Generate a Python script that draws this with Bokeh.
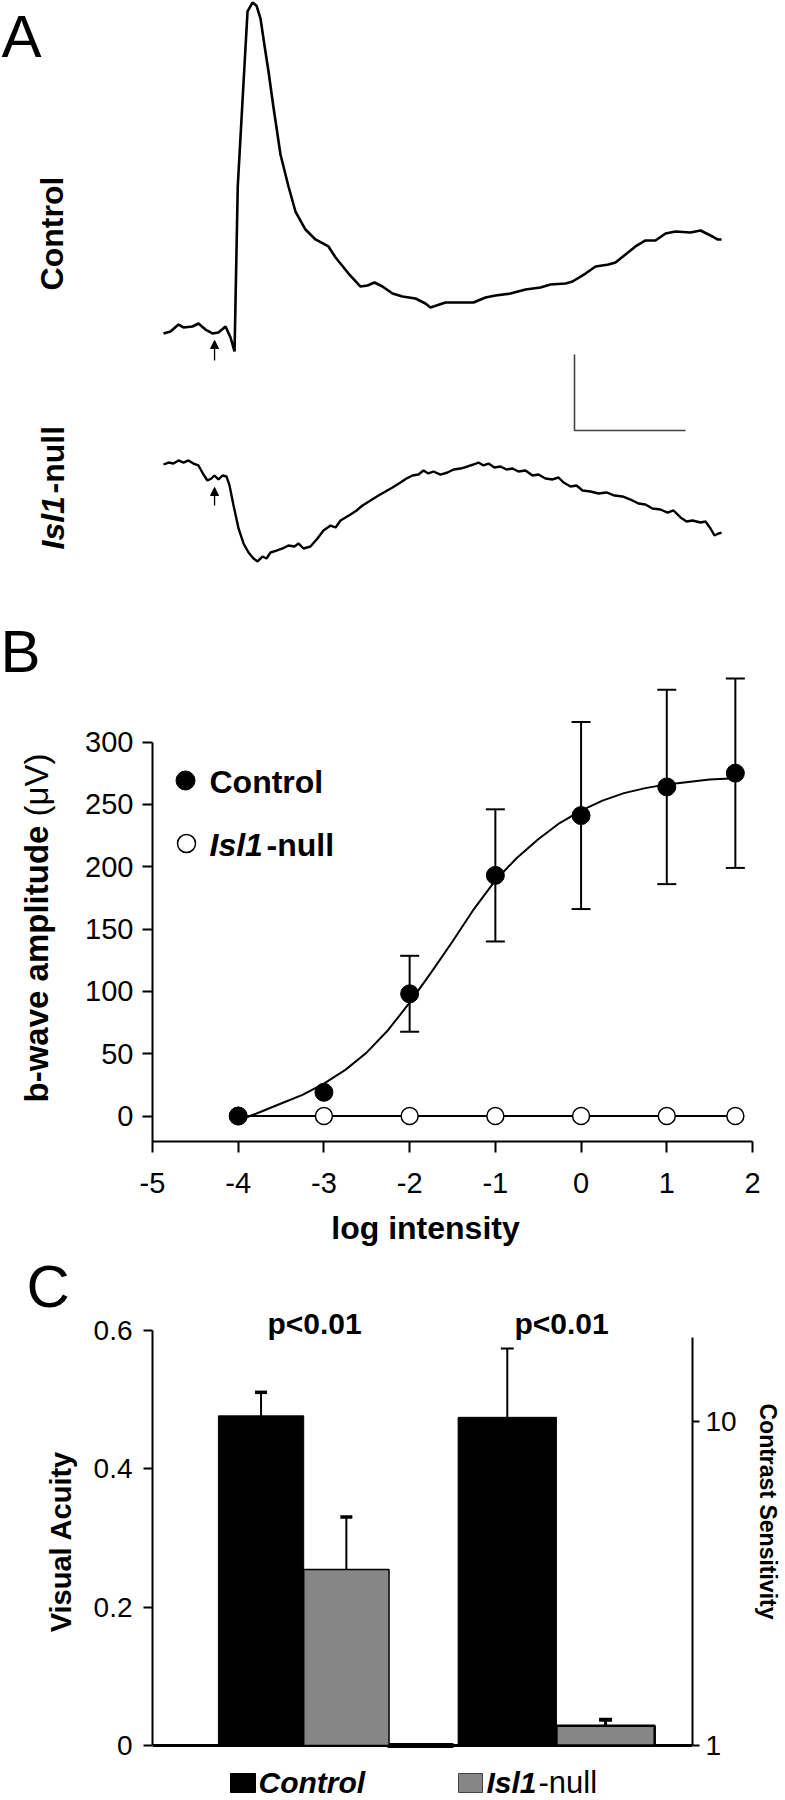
import math
from bokeh.plotting import figure
from bokeh.models import (Range1d, Label, Arrow, NormalHead, Whisker, TeeHead, ColumnDataSource,
                          FixedTicker, LogAxis, LogScale, BasicTickFormatter)
from bokeh.layouts import column, row
from bokeh.embed import file_html
from bokeh.resources import INLINE

FONT = "Liberation Sans"

# ---------------- Panel A: ERG traces (time in ms, amplitude in uV) ----------------
ctrl_t = [0, 6.3, 13.5, 18.0, 26.1, 31.5, 37.8, 44.1, 49.5, 55.9, 60.4, 64.0, 66.9,
          71.2, 75.7, 80.2, 83.8, 87.4, 91.0, 94.6, 99.1, 105.4, 112.6, 118.9, 127.9, 136.9,
          148.6, 155.0, 166.7, 177.5, 183.8, 190.1, 197.3, 206.3, 215.3, 227.0, 236.0, 240.5, 245.9,
          254.1, 265.8, 279.3, 290.1, 299.1, 312.6, 326.1, 339.6, 348.6, 362.2, 368.5, 380.2, 389.2,
          400.9, 407.2, 416.2, 425.2, 434.2, 443.2, 452.3, 461.3, 474.8, 483.8, 494.6, 499.1, 502.7]
ctrl_v = [-1.3, 1.3, 10.5, 6.6, 7.9, 11.8, 3.9, -1.3, 0, 7.9, -6.6, -25.0, 192.1,
          305.3, 422.4, 434.2, 430.0, 413.0, 377.6, 343.4, 296.0, 234.2, 192.1, 159.2, 135.5,
          122.4, 113.2, 98.7, 77.6, 60.5, 61.8, 65.8, 60.5, 51.3, 47.4, 44.7, 38.2, 32.9, 35.5,
          39.5, 39.5, 39.5, 46.1, 48.7, 51.3, 56.6, 59.2, 63.2, 64.5, 67.1, 77.6, 86.8,
          89.5, 92.1, 102.6, 113.2, 121.1, 121.1, 130.3, 132.9, 131.6, 134.2, 126.3, 122.4, 122.4]
isl_t = [0, 4.5, 9.0, 13.5, 18.0, 22.5, 27.0, 31.5, 36.0, 39.6, 43.2, 45.9, 49.5, 53.2, 56.8,
         59.5, 63.1, 67.6, 72.1, 76.6, 81.1, 84.7, 89.2, 92.8, 96.4, 101.8, 107.2, 112.6, 118.0,
         121.6, 126.1, 132.4, 138.7, 144.1, 150.5, 155.0, 159.5, 164.0, 168.5, 173.9, 179.3, 186.5,
         193.7, 200.0, 206.3, 213.5, 218.9, 224.3, 229.7, 234.2, 238.7, 243.2, 249.5, 255.9, 261.3,
         267.6, 273.9, 279.3, 283.8, 288.3, 292.8, 298.2, 303.6, 309.0, 314.4, 319.8, 326.1, 332.4,
         337.8, 344.1, 350.5, 355.9, 360.4, 366.7, 372.1, 377.5, 384.7, 391.9, 399.1, 406.3, 413.5,
         420.7, 427.9, 434.2, 440.5, 447.7, 454.1, 459.5, 465.8, 471.2, 476.6, 483.8, 488.3, 492.8,
         496.4, 500.0, 502.7]
isl_v = [0, 2.6, 1.3, 5.3, 2.6, 5.3, 1.3, -1.3, -13.2, -21.1, -18.4, -14.5, -19.7, -14.5, -15.8,
         -27.6, -53.9, -84.2, -103.9, -115.8, -123.7, -127.6, -121.1, -123.7, -115.8, -113.2, -110.5,
         -106.6, -107.9, -103.9, -110.5, -107.9, -97.4, -86.8, -80.3, -82.9, -73.7, -69.7, -65.8,
         -60.5, -53.9, -47.4, -40.8, -35.5, -30.3, -23.7, -18.4, -14.5, -13.2, -7.9, -11.8, -9.2,
         -13.2, -10.5, -6.6, -5.3, -2.6, 0, 2.6, -1.3, 1.3, -3.9, -2.6, -6.6, -5.3, -9.2, -7.9,
         -14.5, -13.2, -18.4, -19.7, -17.1, -23.7, -28.9, -27.6, -34.2, -35.5, -38.2, -36.8, -40.8,
         -42.1, -46.1, -51.3, -52.6, -57.9, -59.2, -63.2, -60.5, -69.7, -75.0, -73.7, -76.3, -75.0,
         -84.2, -93.4, -90.8, -89.5]
stim_ms = 46
scale_ms = 100
scale_uv = 100

# ---------------- Panel B: intensity-response ----------------
log_int = [-4, -3, -2, -1, 0, 1, 1.8]
ctrl_amp = [0, 19, 98, 193, 241, 264, 275]
ctrl_sem = [0, 0, 30.5, 53, 75, 78, 76]
isl_amp = [0, 0, 0, 0, 0, 0, 0]
fit_x = [-3.9, -3.75, -3.5, -3.25, -3, -2.75, -2.5, -2.25, -2, -1.75, -1.5, -1.25, -1,
         -0.75, -0.5, -0.25, 0, 0.25, 0.5, 0.75, 1, 1.25, 1.5, 1.8]
fit_y = [-1, 3, 10, 17, 26, 37, 51, 69, 91, 115, 140, 166, 189, 207, 222, 235, 245, 253,
         259, 263, 266, 268, 270, 271]
b_xticks = [-5, -4, -3, -2, -1, 0, 1, 2]
b_yticks = [0, 50, 100, 150, 200, 250, 300]

# ---------------- Panel C: visual acuity / contrast sensitivity ----------------
va_control, va_control_err = 0.476, 0.034
va_isl, va_isl_err = 0.254, 0.076
cs_control, cs_control_err = 10.3, 6.5
cs_isl, cs_isl_err = 1.15, 0.05
va_ticks = [0, 0.2, 0.4, 0.6]
cs_ticks = [1, 10]
p_text = ["p<0.01", "p<0.01"]

BLACK = "black"
GRAY = "#868686"
W = 785


def style_axis(ax, size):
    ax.axis_line_width = 2
    ax.axis_line_color = BLACK
    ax.major_tick_line_width = 2
    ax.major_tick_line_color = BLACK
    ax.major_tick_in = 0
    ax.minor_tick_in = 0
    ax.minor_tick_out = 0
    ax.major_label_text_font = FONT
    ax.major_label_text_font_size = size
    ax.major_label_text_color = BLACK


def strip(left, top, width, height):
    """Text-only figure; data coords: x = page x, y = -page y."""
    f = figure(width=width, height=height, x_range=Range1d(left, left + width),
               y_range=Range1d(-(top + height), -top), x_axis_location=None, y_axis_location=None,
               toolbar_location=None, output_backend="svg", min_border=0, outline_line_color=None,
               frame_align=False)
    f.grid.visible = False
    return f


def txt(fig, x, y, text, size, style="normal", angle=0.0, align="center"):
    fig.add_layout(Label(x=x, y=y, text=text, text_font=FONT, text_font_size=size, text_font_style=style,
                         angle=angle, text_align=align, text_baseline="middle", text_color=BLACK))


# ================= Figure A (page y 0..615) =================
def ax_(X):
    return (X - 163) / 1.11


def ay_(Y):
    return (332 - Y) / 0.76


pA = figure(width=W, height=615, x_range=Range1d(ax_(0), ax_(785)), y_range=Range1d(ay_(615), ay_(0)),
            x_axis_location=None, y_axis_location=None, toolbar_location=None, output_backend="svg",
            min_border=0, outline_line_color=None, frame_align=False)
pA.grid.visible = False
isl_off = ay_(464)
pA.line(ctrl_t, ctrl_v, line_width=2.6, color=BLACK)
pA.line(isl_t, [v + isl_off for v in isl_v], line_width=2.4, color=BLACK)
pA.add_layout(Arrow(end=NormalHead(size=8, fill_color=BLACK, line_color=BLACK, line_width=1),
                    x_start=stim_ms, y_start=ay_(360), x_end=stim_ms, y_end=ay_(340), line_width=1.3))
pA.add_layout(Arrow(end=NormalHead(size=8, fill_color=BLACK, line_color=BLACK, line_width=1),
                    x_start=stim_ms, y_start=ay_(505), x_end=stim_ms, y_end=ay_(487), line_width=1.3))
sx0, sy0 = ax_(574), ay_(430)
pA.line([sx0, sx0, sx0 + scale_ms], [sy0 + scale_uv, sy0, sy0], line_width=1.6, color="#444444")
txt(pA, ax_(1), ay_(36), "A", "60px", align="left")
txt(pA, ax_(51), ay_(233), "Control", "32px", "bold", math.pi / 2)
txt(pA, ax_(52), ay_(549), "Isl1", "32px", "bold italic", math.pi / 2, "left")
txt(pA, ax_(52), ay_(549 - 56), "-null", "32px", "bold", math.pi / 2, "left")


# ================= Panel B (page y 615..1206) =================
def bx(X):
    return -5 + (X - 152) / (600 / 7)


def by(Y):
    return (1115.5 - Y) / (374.0 / 300)


pLB = strip(0, 615, 70, 591)
txt(pLB, 0, -651, "B", "60px", align="left")
txt(pLB, 36, -1102, "b-wave amplitude", "33px", "bold", math.pi / 2, "left")
txt(pLB, 36, -(1102 - 286), "(\u03bcV)", "33px", "normal", math.pi / 2, "left")

pB = figure(width=715, height=591, x_range=Range1d(-5, bx(785)), y_range=Range1d(by(1141), by(675)),
            toolbar_location=None, output_backend="svg", min_border_left=82, min_border_right=0,
            min_border_top=60, min_border_bottom=65, outline_line_color=None, frame_align=False)
pB.grid.visible = False
pB.xaxis.ticker = FixedTicker(ticks=b_xticks)
pB.yaxis.ticker = FixedTicker(ticks=b_yticks)
pB.xaxis.major_label_overrides = {t: str(t) for t in b_xticks}
pB.xaxis.bounds = (-5, 2)
pB.yaxis.bounds = (by(1141), 300)
style_axis(pB.xaxis[0], "29px")
style_axis(pB.yaxis[0], "29px")
pB.xaxis.major_tick_out = 11
pB.yaxis.major_tick_out = 10
pB.xaxis.major_label_standoff = 20
pB.yaxis.major_label_standoff = 9

pB.line(fit_x, fit_y, line_width=2, color=BLACK)
pB.line(log_int, isl_amp, line_width=2, color=BLACK)
pB.scatter(log_int, isl_amp, size=17, fill_color="white", line_color=BLACK, line_width=1.5)
eb = [(x, m, s) for x, m, s in zip(log_int, ctrl_amp, ctrl_sem) if s > 0]
src_eb = ColumnDataSource(dict(x=[e[0] for e in eb], lo=[e[1] - e[2] for e in eb], hi=[e[1] + e[2] for e in eb]))
pB.add_layout(Whisker(base="x", lower="lo", upper="hi", source=src_eb, line_width=2, line_color=BLACK,
                      upper_head=TeeHead(size=19, line_width=2, line_color=BLACK),
                      lower_head=TeeHead(size=19, line_width=2, line_color=BLACK)))
pB.scatter(log_int, ctrl_amp, size=18, fill_color=BLACK, line_color=BLACK)

# legend
pB.scatter([bx(185)], [by(780)], size=19, fill_color=BLACK, line_color=BLACK)
pB.scatter([bx(186)], [by(843)], size=18, fill_color="white", line_color=BLACK, line_width=1.5)
txt(pB, bx(209), by(781), "Control", "32px", "bold", align="left")
txt(pB, bx(209), by(844), "Isl1", "32px", "bold italic", align="left")
txt(pB, bx(209 + 57), by(844), "-null", "32px", "bold", align="left")

# ================= strip: x-axis title of B (page y 1206..1250) =================
pL = strip(0, 1206, W, 44)
txt(pL, 425, -1227, "log intensity", "32px", "bold")


# ================= Panel C (page y 1250..1800) =================
def cx(X):
    return (X - 152) / 54.0


def cy(Y):
    return (1745 - Y) / 692.5


def clog(Y):
    return 10 ** ((1745 - Y) / 324.0)


pLC = strip(0, 1250, 78, 550)
txt(pLC, 26, -1286, "C", "60px", align="left")
txt(pLC, 60, -1541, "Visual Acuity", "29px", "bold", math.pi / 2)
pRC = strip(747, 1250, 38, 550)
txt(pRC, 767, -1511, "Contrast Sensitivity", "23px", "bold", -math.pi / 2)

pC = figure(width=669, height=550, x_range=Range1d(0, 10), y_range=Range1d(cy(1800), cy(1250)),
            x_axis_location=None, toolbar_location=None, output_backend="svg",
            min_border_left=74, min_border_right=55, min_border_top=0, min_border_bottom=0,
            outline_line_color=None, frame_align=False)
pC.grid.visible = False
pC.extra_y_ranges = {"cs": Range1d(clog(1800), clog(1250))}
pC.extra_y_scales = {"cs": LogScale()}

pC.yaxis.ticker = FixedTicker(ticks=va_ticks)
pC.yaxis.bounds = (0, 0.6)
pC.yaxis.major_label_overrides = {0: "0", 0.2: "0.2", 0.4: "0.4", 0.6: "0.6"}
style_axis(pC.yaxis[0], "28px")
pC.yaxis.major_tick_out = 9
pC.yaxis.major_label_standoff = 11

rax = LogAxis(y_range_name="cs", ticker=FixedTicker(ticks=cs_ticks), formatter=BasicTickFormatter(),
              bounds=(1, clog(1337)))
style_axis(rax, "28px")
rax.major_tick_out = 7
rax.major_label_standoff = 6
pC.add_layout(rax, "right")

G1, G2 = 2.8, 7.48
W1, W2 = 1.58, 1.82
# baseline
pC.segment(x0=[0], y0=[0], x1=[10], y1=[0], line_width=3, color=BLACK)
pC.segment(x0=[cx(387)], y0=[0], x1=[cx(453)], y1=[0], line_width=5, color=BLACK)
# visual acuity bars
pC.vbar(x=[G1 - W1 / 2], top=[va_control], bottom=0, width=W1, fill_color=BLACK, line_color=BLACK)
pC.vbar(x=[G1 + W1 / 2], top=[va_isl], bottom=0, width=W1, fill_color=GRAY, line_color=BLACK, line_width=1.5)
# contrast sensitivity bars
pC.vbar(x=[G2 - W2 / 2], top=[cs_control], bottom=1, width=W2, fill_color=BLACK, line_color=BLACK,
        y_range_name="cs")
pC.vbar(x=[G2 + W2 / 2], top=[cs_isl], bottom=1, width=W2, fill_color=GRAY, line_color=BLACK,
        line_width=2.5, y_range_name="cs")

src_va = ColumnDataSource(dict(x=[G1 - W1 / 2, G1 + W1 / 2], lo=[va_control, va_isl],
                               hi=[va_control + va_control_err, va_isl + va_isl_err]))
pC.add_layout(Whisker(base="x", lower="lo", upper="hi", source=src_va, line_width=2, line_color=BLACK,
                      upper_head=TeeHead(size=12, line_width=3.5, line_color=BLACK), lower_head=None))
src_cs = ColumnDataSource(dict(x=[G2 - W2 / 2], lo=[cs_control], hi=[cs_control + cs_control_err]))
pC.add_layout(Whisker(base="x", lower="lo", upper="hi", source=src_cs, line_width=2, line_color=BLACK,
                      y_range_name="cs",
                      upper_head=TeeHead(size=13, line_width=2, line_color=BLACK), lower_head=None))
src_cs2 = ColumnDataSource(dict(x=[G2 + W2 / 2], lo=[cs_isl], hi=[cs_isl + cs_isl_err]))
pC.add_layout(Whisker(base="x", lower="lo", upper="hi", source=src_cs2, line_width=3, line_color=BLACK,
                      y_range_name="cs",
                      upper_head=TeeHead(size=13, line_width=4, line_color=BLACK), lower_head=None))

for gx, t in zip([cx(314), cx(561)], p_text):
    txt(pC, gx, cy(1323), t, "30px", "bold")

# legend
pC.quad(left=[cx(230)], right=[cx(255)], bottom=[cy(1792)], top=[cy(1773)], fill_color=BLACK, line_color=BLACK)
pC.quad(left=[cx(458)], right=[cx(482)], bottom=[cy(1792)], top=[cy(1773)], fill_color=GRAY,
        line_color="#444444")
txt(pC, cx(258), cy(1782), "Control", "30px", "bold italic", align="left")
txt(pC, cx(486), cy(1782), "Isl1", "30px", "bold italic", align="left")
txt(pC, cx(538), cy(1782), "-null", "31px", "normal", align="left")

layout = column(pA, row(pLB, pB), pL, row(pLC, pC, pRC))
open("out.html", "w").write(file_html(layout, INLINE))
